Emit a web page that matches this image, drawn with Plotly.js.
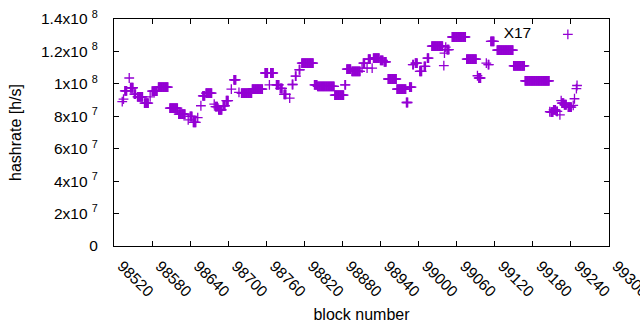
<!DOCTYPE html>
<html>
<head>
<meta charset="utf-8">
<script src="https://cdn.plot.ly/plotly-3.0.1.min.js"></script>
<style>
html,body{margin:0;padding:0;background:#fff;}
#chart{width:640px;height:330px;}
</style>
</head>
<body>
<div id="chart"></div>
<script>
// Runs of consecutive blocks sharing one hashrate value
const runStart = [98533,98535,98537,98544,98546,98552,98557,98568,98577,98580,98590,98608,98622,98637,98640,98645,98652,98657,98660,98665,98678,98680,98685,98692,98697,98705,98709,98717,98721,98738,98758,98765,98767,98776,98782,98788,98797,98801,98806,98812,98816,98836,98841,98868,98884,98887,98895,98911,98913,98919,98921,98927,98929,98940,98946,98952,98966,98981,98986,98991,98995,99002,99009,99014,99021,99040,99041,99043,99045,99053,99076,99093,99095,99107,99110,99114,99124,99150,99168,99207,99209,99213,99218,99223,99225,99226,99230,99236,99244,99246,99249,99250];
const runEnd   = [98533,98535,98540,98544,98550,98554,98565,98574,98577,98588,98605,98620,98632,98637,98643,98649,98652,98657,98663,98674,98678,98683,98690,98695,98700,98705,98712,98717,98737,98754,98762,98765,98771,98780,98785,98791,98797,98802,98807,98813,98834,98840,98867,98882,98885,98893,98908,98911,98915,98919,98924,98927,98938,98944,98949,98965,98980,98983,98989,98992,98998,99005,99011,99016,99038,99040,99041,99043,99048,99074,99091,99093,99098,99107,99111,99119,99149,99167,99206,99207,99212,99216,99219,99223,99225,99229,99233,99241,99244,99246,99249,99250];
const runValue = [89.0e6,90.6e6,95.7e6,103.6e6,97.6e6,93.7e6,92.0e6,88.1e6,92.0e6,95.5e6,98.0e6,85.0e6,81.3e6,77.8e6,79.9e6,76.2e6,79.2e6,86.5e6,92.6e6,94.3e6,87.5e6,86.0e6,84.0e6,86.5e6,89.7e6,96.8e6,102.5e6,94.7e6,94.3e6,96.8e6,106.7e6,99.4e6,106.7e6,99.4e6,97.2e6,93.5e6,91.2e6,99.6e6,104.8e6,108.7e6,112.8e6,99.4e6,98.4e6,93.0e6,99.4e6,109.1e6,107.7e6,109.7e6,112.8e6,109.7e6,115.3e6,109.7e6,115.9e6,114.5e6,113.5e6,103.0e6,96.8e6,88.5e6,98.0e6,111.8e6,112.8e6,107.7e6,110.8e6,115.9e6,123.3e6,111.2e6,119.0e6,122.7e6,121.1e6,128.9e6,115.3e6,105.0e6,103.6e6,112.8e6,111.8e6,126.2e6,120.8e6,111.1e6,101.9e6,82.8e6,82.6e6,84.0e6,83.0e6,80.9e6,89.6e6,88.1e6,87.1e6,85.7e6,86.7e6,90.8e6,97.0e6,99.0e6];

const xTickVals = [98520,98580,98640,98700,98760,98820,98880,98940,99000,99060,99120,99180,99240,99300];
const yTickVals = [0,2e7,4e7,6e7,8e7,1e8,1.2e8,1.4e8];
const yTickText = ['0','2x10 <sup>7</sup>','4x10 <sup>7</sup>','6x10 <sup>7</sup>','8x10 <sup>7</sup>','1x10 <sup>8</sup>','1.2x10 <sup>8</sup>','1.4x10 <sup>8</sup>'];
const seriesName = 'X17';

const xs = [], ys = [];
for (let i = 0; i < runStart.length; i++) {
  for (let b = runStart[i]; b <= runEnd[i]; b++) { xs.push(b); ys.push(runValue[i]); }
}

const tickFont = {family: 'Liberation Sans, Arial, sans-serif', size: 15.5, color: '#000'};
const titleFont = {family: 'Liberation Sans, Arial, sans-serif', size: 16, color: '#000'};
const trace = {
  x: xs, y: ys, type: 'scatter', mode: 'markers', name: '',
  marker: {symbol: 'cross-thin-open', size: 7, color: '#9400d3', line: {color: '#9400d3', width: 1.3}},
  showlegend: true, hoverinfo: 'skip'
};
const layout = {
  width: 640, height: 330,
  margin: {l: 114, r: 31, t: 19, b: 84},
  paper_bgcolor: '#fff', plot_bgcolor: '#fff',
  font: tickFont,
  showlegend: true,
  legend: {x: 0.969, y: 1.005, xanchor: 'right', yanchor: 'top', bgcolor: 'rgba(0,0,0,0)',
           title: {text: seriesName + '\u00a0\u00a0', side: 'left', font: tickFont}, font: tickFont, itemwidth: 30},
  xaxis: {range: [98520, 99300.4], tickvals: xTickVals, tickangle: 45, tickformat: 'd',
          ticks: 'inside', ticklen: 5, tickcolor: '#000', showline: true, linecolor: '#000', linewidth: 1,
          mirror: 'allticks', showgrid: false, zeroline: false, tickfont: tickFont,
          ticklabelshift: 8, ticklabelstandoff: 4, ticklabeloverflow: 'allow',
          title: {text: 'block number', font: titleFont, standoff: 9}},
  yaxis: {range: [0, 1.4e8], tickvals: yTickVals, ticktext: yTickText,
          ticks: 'inside', ticklen: 5, tickcolor: '#000', showline: true, linecolor: '#000', linewidth: 1,
          mirror: 'allticks', showgrid: false, zeroline: false, tickfont: tickFont, ticklabelstandoff: 12,
          title: {text: 'hashrate [h/s]', font: titleFont, standoff: 15}}
};
Plotly.newPlot('chart', [trace], layout, {staticPlot: true, displayModeBar: false});
</script>
</body>
</html>
